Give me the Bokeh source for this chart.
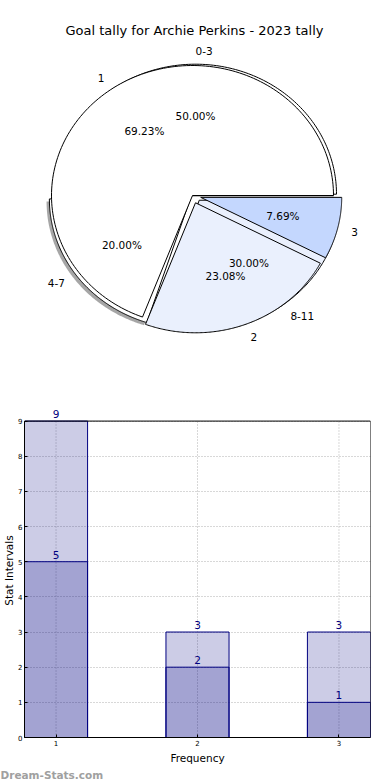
import numpy as np
from bokeh.plotting import figure
from bokeh.models import Range1d, ColumnDataSource, FixedTicker, LabelSet, Title
from bokeh.layouts import column
from bokeh.embed import file_html
from bokeh.resources import INLINE
from bokeh.core.properties import value

# ---------------- data ----------------
title_text = "Goal tally for Archie Perkins - 2023 tally"

pie1_labels = ["1", "2", "3"]
pie1_values = [9, 3, 1]
pie1_colors = ["#ffffff", "#eaf0fd", "#c4d7fe"]

pie2_labels = ["0-3", "4-7", "8-11"]
pie2_values = [5, 2, 3]
pie2_colors = ["#ffffff", "#ffffff", "#eaf0fd"]

bar_x = [1, 2, 3]
bar_total = [9, 3, 3]
bar_part = [5, 2, 1]
y_ticks = [0, 1, 2, 3, 4, 5, 6, 7, 8, 9]
y_max = 9

FONT = "DejaVu Sans"

# shared horizontal borders (column layouts align the frames)
BL, BR = 24, 20
W = 390

# ---------------- pie figure ----------------
H1 = 380
p1 = figure(width=W, height=H1, x_range=Range1d(BL, W - BR), y_range=Range1d(H1, 0),
            output_backend="svg", toolbar_location=None,
            min_border_left=BL, min_border_right=BR, min_border_top=0, min_border_bottom=0,
            x_axis_type=None, y_axis_type=None, title=None)
p1.outline_line_color = None
p1.background_fill_color = "white"
p1.border_fill_color = "white"

RX, RY = 141.0, 130.0


def pie_parts(values, cx, cy, explode):
    fr = np.array(values, dtype=float) / float(sum(values))
    edges = np.concatenate([[0.0], np.cumsum(fr)]) * 2 * np.pi
    out = []
    for i in range(len(values)):
        a0, a1 = edges[i], edges[i + 1]
        mid = 0.5 * (a0 + a1)
        dx = explode[i] * RX * np.cos(mid)
        dy = -explode[i] * RY * np.sin(mid)
        th = np.linspace(a0, a1, 160)
        xs = [cx + dx] + list(cx + dx + RX * np.cos(th))
        ys = [cy + dy] + list(cy + dy - RY * np.sin(th))
        lx = cx + dx + 1.1 * RX * np.cos(mid)
        ly = cy + dy - 1.1 * RY * np.sin(mid)
        la = "left" if np.cos(mid) > 0 else "right"
        px = cx + dx + 0.6 * RX * np.cos(mid)
        py = cy + dy - 0.6 * RY * np.sin(mid)
        pct = "%.2f%%" % (fr[i] * 100)
        out.append(dict(xs=xs, ys=ys, lx=lx, ly=ly, la=la, px=px, py=py, pct=pct))
    return out


pie2 = pie_parts(pie2_values, 195.0, 195.0, [0.01, 0.045, 0.045])
pie1 = pie_parts(pie1_values, 192.0, 195.0, [0.0, 0.06, 0.06])

# shadow of the second pie
sx = [[x - 2.8 for x in s["xs"]] for s in pie2]
sy = [[y + 2.6 for y in s["ys"]] for s in pie2]
p1.patches(sx, sy, fill_color="#4d4d4d", fill_alpha=0.5, line_color=None)

p1.patches([s["xs"] for s in pie2], [s["ys"] for s in pie2], fill_color=pie2_colors,
           line_color="black", line_width=1)
p1.patches([s["xs"] for s in pie1], [s["ys"] for s in pie1], fill_color=pie1_colors,
           line_color="black", line_width=1)

lab_src = ColumnDataSource(dict(
    x=[s["lx"] for s in pie1] + [s["lx"] for s in pie2],
    y=[s["ly"] for s in pie1] + [s["ly"] for s in pie2],
    t=pie1_labels + pie2_labels,
    a=[s["la"] for s in pie1] + [s["la"] for s in pie2],
))
p1.text(x="x", y="y", text="t", text_align="a", text_baseline="middle", source=lab_src,
        text_font=value(FONT), text_font_size="10.5px", text_color="black")

pct_src = ColumnDataSource(dict(
    x=[s["px"] for s in pie1] + [s["px"] for s in pie2],
    y=[s["py"] for s in pie1] + [s["py"] for s in pie2],
    t=[s["pct"] for s in pie1] + [s["pct"] for s in pie2],
))
p1.text(x="x", y="y", text="t", text_align="center", text_baseline="middle", source=pct_src,
        text_font=value(FONT), text_font_size="10.5px", text_color="black")

p1.text(x=[194], y=[30], text=[title_text], text_align="center", text_baseline="middle",
        text_font=value(FONT), text_font_size="13px", text_color="black")

# ---------------- bar figure ----------------
H2 = 400
XR = (0.777, 3.223)
p2 = figure(width=W, height=H2, x_range=Range1d(*XR), y_range=Range1d(0, 9.5),
            output_backend="svg", toolbar_location=None, title=None,
            min_border_left=BL, min_border_right=BR, min_border_top=23, min_border_bottom=40)
p2.outline_line_color = None
p2.background_fill_color = "white"
p2.border_fill_color = "white"

# grid: horizontal via the grid model, vertical drawn only up to the top of the box
p2.xgrid.visible = False
p2.ygrid.ticker = FixedTicker(ticks=y_ticks)
p2.ygrid.grid_line_color = "#b0b0b0"
p2.ygrid.grid_line_dash = "1 2"
p2.segment(x0=bar_x, y0=[0] * len(bar_x), x1=bar_x, y1=[y_max] * len(bar_x),
           line_color="#b0b0b0", line_dash="1 2", line_width=1, level="underlay")

p2.vbar(x=bar_x, top=bar_total, width=0.446, bottom=0, fill_color="navy", fill_alpha=0.2,
        line_color="navy", line_width=1)
p2.vbar(x=bar_x, top=bar_part, width=0.446, bottom=0, fill_color="navy", fill_alpha=0.2,
        line_color="navy", line_width=1)

# axes box (top / right edges)
p2.quad(left=[XR[0]], right=[XR[1]], bottom=[0], top=[y_max], fill_color=None,
        line_color="black", line_width=1)

val_src = ColumnDataSource(dict(
    x=bar_x + bar_x,
    y=bar_total + bar_part,
    t=[str(v) for v in bar_total + bar_part],
))
p2.add_layout(LabelSet(x="x", y="y", text="t", source=val_src, text_align="center",
                       text_baseline="bottom", y_offset=3, text_color="navy",
                       text_font=value(FONT), text_font_size="10.5px"))

p2.xaxis.ticker = FixedTicker(ticks=bar_x)
p2.yaxis.ticker = FixedTicker(ticks=y_ticks)
p2.yaxis.bounds = (0, y_max)
for ax in (p2.xaxis[0], p2.yaxis[0]):
    ax.major_label_text_font = FONT
    ax.major_label_text_font_size = "7px"
    ax.major_label_text_color = "black"
    ax.major_tick_in = 3
    ax.major_tick_out = 0
    ax.minor_tick_line_color = None
    ax.axis_line_color = "black"
    ax.major_tick_line_color = "black"
    ax.major_label_standoff = 2
    ax.axis_label_text_font = FONT
    ax.axis_label_text_font_size = "10.5px"
    ax.axis_label_text_font_style = "normal"
    ax.axis_label_text_color = "black"
p2.xaxis.axis_label = "Frequency"
p2.xaxis.axis_label_standoff = 3
p2.yaxis.axis_label = "Stat Intervals"
p2.yaxis.axis_label_standoff = 0

p2.add_layout(Title(text="Dream-Stats.com", align="left", text_color="#a0a0a0",
                    text_font=FONT, text_font_size="10.5px", text_font_style="bold",
                    standoff=0, offset=-BL), "below")

layout = column(p1, p2, spacing=0)
open("out.html", "w").write(file_html(layout, INLINE))
